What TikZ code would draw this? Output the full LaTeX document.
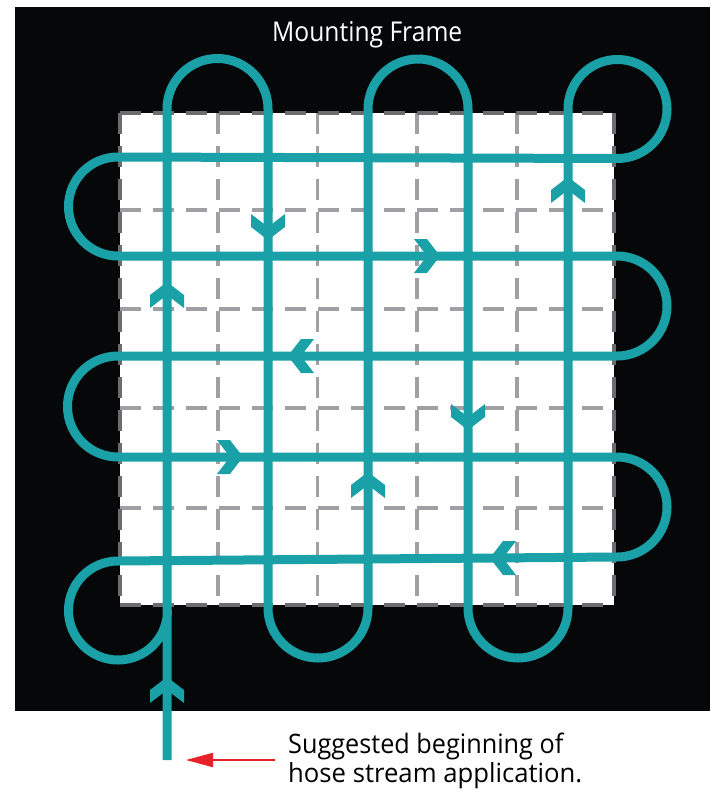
\documentclass[tikz,border=0pt]{standalone}
\usepackage{fontspec}
\setmainfont{Open Sans}
\usepackage{graphicx}
\usetikzlibrary{arrows.meta}
\definecolor{hosec}{HTML}{1AA0A7}
\definecolor{frameblack}{HTML}{060709}
\definecolor{gridlight}{HTML}{A0A0A4}
\definecolor{griddark}{HTML}{6C6C6E}
\definecolor{pointred}{HTML}{E8202A}
\tikzset{
  hose/.style={draw=hosec, line width=9pt, line join=round},
  gridline/.style={draw=gridlight, line width=3.2pt, dash pattern=on 21pt off 12pt},
  gridborder/.style={draw=griddark, line width=3.5pt, dash pattern=on 21pt off 12pt},
  chev/.pic={\fill[hosec] (0,0) -- (-13,17) -- (-26,17) -- (-13,0) -- (-26,-17) -- (-13,-17) -- cycle;},
  label/.style={anchor=base west, inner sep=0pt}
}
\begin{document}
\begin{tikzpicture}[x=1pt,y=-1pt]
\useasboundingbox (0,0) rectangle (710,792);
% frame
\fill[frameblack] (15,7) rectangle (710,711);
\fill[white] (120,113) rectangle (614,605);
\foreach \gx in {218,317.5,417,517} \draw[gridline] (\gx,113) -- (\gx,605);
\foreach \gy in {210,309,408,508} \draw[gridline] (120,\gy) -- (614,\gy);
\draw[gridborder] (120,113) -- (614,113);
\draw[gridborder] (120,605) -- (614,605);
\draw[gridborder] (120,113) -- (120,605);
\draw[gridborder] (614,113) -- (614,605);
% hose
\coordinate (start) at (167,760);
\draw[hose] (start) -- (167,109)
 arc[start angle=180,end angle=360,radius=50.5]
 -- (268,608)
 arc[start angle=180,end angle=0,radius=50]
 -- (368,109)
 arc[start angle=180,end angle=360,radius=50]
 -- (468,608)
 arc[start angle=180,end angle=0,radius=50]
 -- (568,109)
 arc[start angle=180,end angle=450,radius=49.5]
 -- (118,157)
 arc[start angle=270,end angle=90,radius=49.5]
 -- (617,256)
 arc[start angle=270,end angle=450,radius=50]
 -- (118,356)
 arc[start angle=270,end angle=90,radius=50.5]
 -- (617,457)
 arc[start angle=270,end angle=450,radius=50]
 -- (118,561)
 arc[start angle=270,end angle=0,radius=49.5];
% direction chevrons
\pic[rotate=90] at (167,677) {chev};
\pic[rotate=90] at (167,282) {chev};
\pic[rotate=-90] at (268,240) {chev};
\pic at (440,256) {chev};
\pic[rotate=180] at (288,356) {chev};
\pic[rotate=-90] at (468,430) {chev};
\pic at (243,457) {chev};
\pic[rotate=90] at (368,472) {chev};
\pic[rotate=90] at (568,177) {chev};
\pic[rotate=180] at (490,558) {chev};
% texts
\node[label, text=white] (title) at (272,42) {\resizebox{190pt}{20pt}{Mounting Frame}};
\node[label] (note1) at (288,753) {\resizebox{275pt}{20.5pt}{Suggested beginning of}};
\node[label] (note2) at (288,782) {\resizebox{294pt}{20pt}{hose stream application.}};
% pointer
\coordinate (ptrtail) at (275,760);
\draw[pointred, line width=2pt, -{Triangle[length=27pt,width=14pt]}] (ptrtail) -- ([xshift=19pt]start);
\end{tikzpicture}
\end{document}
